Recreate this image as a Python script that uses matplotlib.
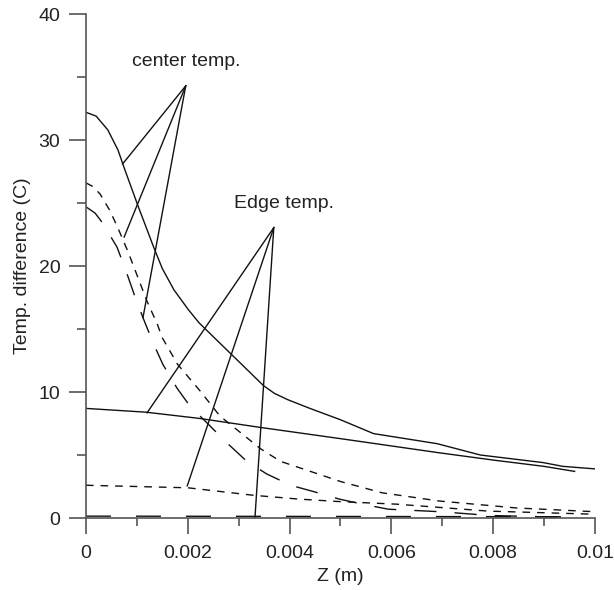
import matplotlib
matplotlib.use("Agg")
import matplotlib.pyplot as plt
from matplotlib.ticker import MultipleLocator

plt.rcParams['font.family'] = ['Liberation Sans', 'DejaVu Sans']

# center temperature, solid
c1_x = [0, 0.0002, 0.00043, 0.00063, 0.00075, 0.00102, 0.00133, 0.0015, 0.00173, 0.002, 0.00222,
        0.00288, 0.00349, 0.0037, 0.00396, 0.0044, 0.005, 0.00565, 0.0069, 0.00775, 0.00898, 0.00937, 0.01]
c1_y = [32.2, 31.9, 30.8, 29.2, 27.8, 24.8, 21.5, 19.8, 18.1, 16.6, 15.5,
        12.9, 10.5, 9.9, 9.4, 8.7, 7.8, 6.7, 5.9, 5.0, 4.4, 4.1, 3.9]
# center temperature, short dash
c2_x = [0, 0.00014, 0.00028, 0.00047, 0.00063, 0.00083, 0.00102, 0.0012, 0.0014, 0.0015,
        0.0018, 0.00224, 0.00263, 0.00343, 0.00382, 0.00441, 0.005, 0.00582, 0.00694, 0.00845, 0.01]
c2_y = [26.6, 26.3, 25.7, 24.4, 23.0, 21.1, 19.1, 17.2, 15.4, 14.3,
        12.2, 10.1, 8.1, 5.5, 4.5, 3.7, 2.9, 2.0, 1.35, 0.8, 0.5]
# center temperature, long dash
c3_x = [0, 0.00018, 0.00033, 0.00061, 0.00077, 0.00096, 0.00112, 0.00132, 0.00151, 0.00179,
        0.00204, 0.00239, 0.00276, 0.00316, 0.00355, 0.00402, 0.00447, 0.00498, 0.00543,
        0.00594, 0.00696, 0.00794, 0.00898, 0.00937]
c3_y = [24.7, 24.2, 23.4, 21.5, 19.8, 17.6, 15.9, 13.9, 12.2, 10.3,
        8.9, 7.5, 6.0, 4.5, 3.5, 2.6, 2.1, 1.5, 1.1, 0.7, 0.5, 0.2, 0.1, 0.0]
# edge temperature, solid
e1_x = [0, 0.00118, 0.00224, 0.00341, 0.005, 0.0069, 0.008, 0.009, 0.0096]
e1_y = [8.7, 8.4, 7.9, 7.2, 6.3, 5.2, 4.6, 4.1, 3.7]
# edge temperature, short dash
e2_x = [0, 0.002, 0.0033, 0.00419, 0.005, 0.0061, 0.0079, 0.01]
e2_y = [2.6, 2.4, 1.8, 1.5, 1.3, 1.1, 0.55, 0.3]
# edge temperature, long dash
e3_x = [0, 0.0096]
e3_y = [0.15, 0.1]

# annotation
center_label = "center temp."
edge_label = "Edge temp."
center_apex = (0.00196, 34.3)
center_ends_x = [0.00072, 0.00075, 0.00112]
center_ends_y = [28.1, 22.3, 15.9]
edge_apex = (0.00369, 23.05)
edge_ends_x = [0.0012, 0.00199, 0.00332]
edge_ends_y = [8.35, 2.55, 0.0]

fig = plt.figure(figsize=(6.14, 5.9), dpi=100)
ax = fig.add_axes([0.140, 0.1220, 0.829, 0.8542])

lw = 1.0
col = '#111111'
ax.plot(c1_x, c1_y, color=col, lw=lw)
ax.plot(c2_x, c2_y, color=col, lw=lw, dashes=(5.5, 5))
ax.plot(c3_x, c3_y, color=col, lw=lw, dashes=(16, 13))
ax.plot(e1_x, e1_y, color=col, lw=lw)
ax.plot(e2_x, e2_y, color=col, lw=lw, dashes=(5.5, 5))
ax.plot(e3_x, e3_y, color=col, lw=lw, dashes=(18, 18))

for x, y in zip(center_ends_x, center_ends_y):
    ax.plot([center_apex[0], x], [center_apex[1], y], color=col, lw=lw)
for x, y in zip(edge_ends_x, edge_ends_y):
    ax.plot([edge_apex[0], x], [edge_apex[1], y], color=col, lw=lw)

ax.text(0.00091, 36.2, center_label, fontsize=14, va='center', ha='left', color='#222222')
ax.text(0.0029, 25.0, edge_label, fontsize=14, va='center', ha='left', color='#222222')

ax.set_xlim(0, 0.01)
ax.set_ylim(0, 40)
ax.spines['top'].set_visible(False)
ax.spines['right'].set_visible(False)
for s in ['left', 'bottom']:
    ax.spines[s].set_color('#555555')
    ax.spines[s].set_linewidth(1.2)

ax.xaxis.set_minor_locator(MultipleLocator(0.001))
ax.yaxis.set_major_locator(MultipleLocator(10))
ax.yaxis.set_minor_locator(MultipleLocator(5))
ax.set_xticks([0, 0.002, 0.004, 0.006, 0.008, 0.01])
ax.set_xticklabels(['0', '0.002', '0.004', '0.006', '0.008', '0.01'])
ax.tick_params(which='major', length=12.5, width=1.2, color='#555555', labelsize=14,
               labelcolor='#222222', pad=6)
ax.tick_params(which='minor', length=6.3, width=1.2, color='#555555')
ax.tick_params(axis='x', which='major', length=11.5, pad=8)
ax.tick_params(axis='x', which='minor', length=5.8)

ax.set_xlabel('Z (m)', fontsize=14, color='#222222', labelpad=4)
ax.set_ylabel('Temp. difference (C)', fontsize=14, color='#222222', labelpad=5)

fig.savefig('out.png', dpi=100)
